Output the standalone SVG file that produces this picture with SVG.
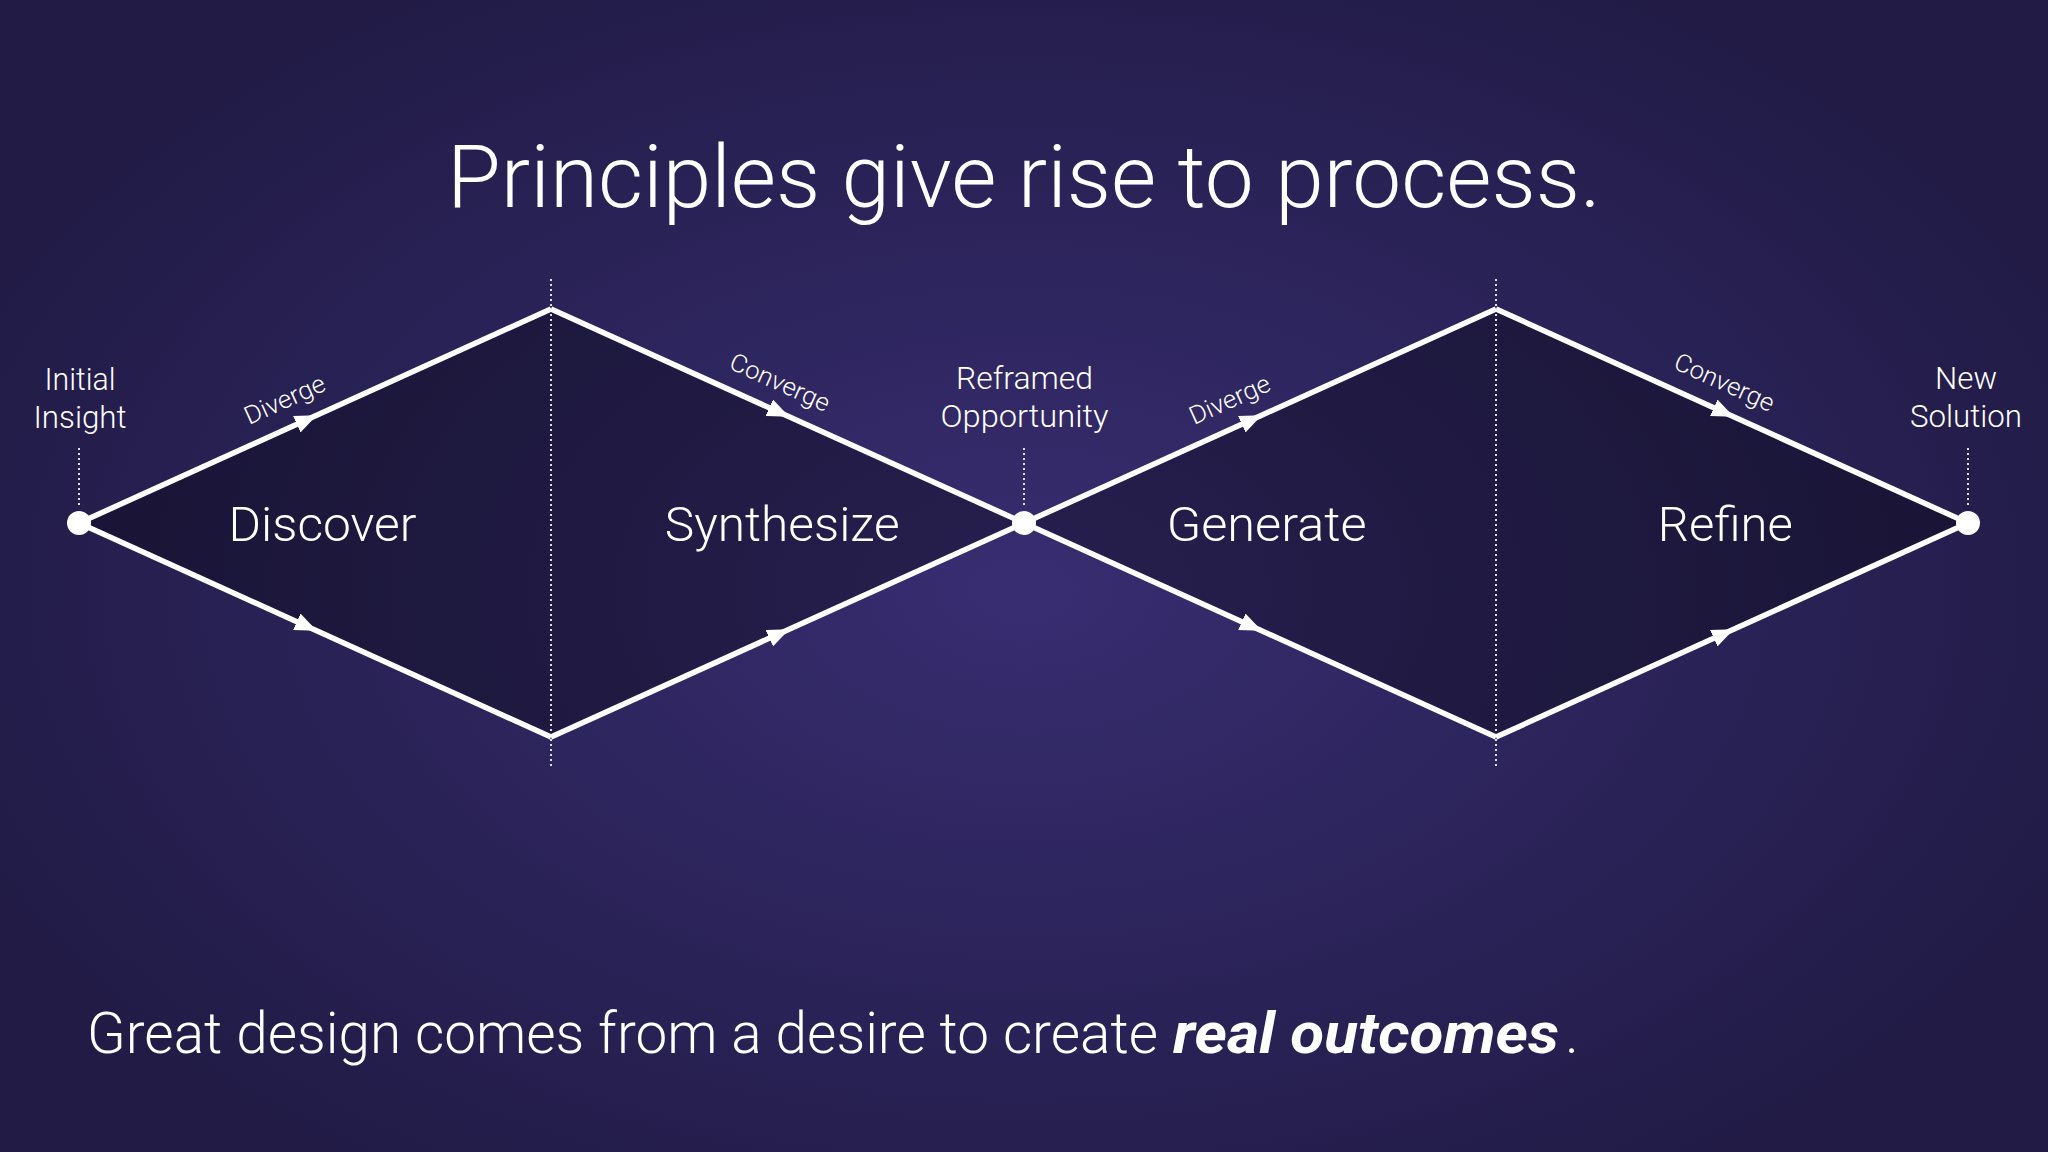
<svg xmlns="http://www.w3.org/2000/svg" width="2048" height="1152" viewBox="0 0 2048 1152">
  <defs>
    <radialGradient id="bg" gradientUnits="userSpaceOnUse" cx="1024" cy="590" r="1150" gradientTransform="translate(1024 590) scale(1 0.62) translate(-1024 -590)">
      <stop offset="0" stop-color="#382d71"/>
      <stop offset="0.45" stop-color="#2d255d"/>
      <stop offset="1" stop-color="#211b46"/>
    </radialGradient>
    <marker id="arr" viewBox="0 0 22 18" refX="20" refY="9" markerWidth="22" markerHeight="18" markerUnits="userSpaceOnUse" orient="auto">
      <path d="M0 0 L22 9 L0 18 Z" fill="#ffffff"/>
    </marker>
    <style>
      .t { font-family: Roboto, "Liberation Sans", sans-serif; font-weight: 300; fill: #ffffff; }
      .title { font-size: 88px; }
      .stage { font-size: 49px; text-anchor: middle; }
      .lbl { font-size: 32px; text-anchor: middle; }
      .dir { font-size: 25px; text-anchor: middle; }
      .foot { font-size: 58px; }
      .bi { font-weight: 700; font-style: italic; }
      .edge { fill: none; stroke: #ffffff; stroke-width: 5.5; stroke-linejoin: miter; marker-mid: url(#arr); }
      .dot { stroke: #ffffff; stroke-opacity: 0.85; stroke-width: 2; stroke-dasharray: 2 3; fill: none; }
      .shade { fill: #000000; fill-opacity: 0.3; }
      .node { fill: #ffffff; }
    </style>
  </defs>

  <rect x="0" y="0" width="2048" height="1152" fill="url(#bg)"/>

  <text class="t title" x="447" y="207" textLength="1154" lengthAdjust="spacingAndGlyphs">Principles give rise to process.</text>

  <g id="diamond-1">
    <polygon class="shade" points="79,523 551,309 1024,523 551,737"/>
  </g>
  <g id="diamond-2">
    <polygon class="shade" points="1024,523 1496,309 1968,523 1496,737"/>
  </g>

  <g id="dividers">
    <line class="dot" x1="551" y1="279" x2="551" y2="767"/>
    <line class="dot" x1="1496" y1="279" x2="1496" y2="767"/>
    <line class="dot" x1="79" y1="448" x2="79" y2="508"/>
    <line class="dot" x1="1024" y1="448" x2="1024" y2="508"/>
    <line class="dot" x1="1968" y1="448" x2="1968" y2="508"/>
  </g>

  <g id="connectors">
    <path class="edge" d="M79 523 L315 416 L551 309"/>
    <path class="edge" d="M551 309 L787.5 416 L1024 523"/>
    <path class="edge" d="M79 523 L315 630 L551 737"/>
    <path class="edge" d="M551 737 L787.5 630 L1024 523"/>
    <path class="edge" d="M1024 523 L1260 416 L1496 309"/>
    <path class="edge" d="M1496 309 L1732 416 L1968 523"/>
    <path class="edge" d="M1024 523 L1260 630 L1496 737"/>
    <path class="edge" d="M1496 737 L1732 630 L1968 523"/>
    <text class="t dir" transform="translate(296.1 424.6) rotate(-24.4)" y="-19" textLength="86" lengthAdjust="spacingAndGlyphs">Diverge</text>
    <text class="t dir" transform="translate(768.6 407.4) rotate(24.4)" y="-19" textLength="107" lengthAdjust="spacingAndGlyphs">Converge</text>
    <text class="t dir" transform="translate(1241.1 424.6) rotate(-24.4)" y="-19" textLength="86" lengthAdjust="spacingAndGlyphs">Diverge</text>
    <text class="t dir" transform="translate(1713.1 407.4) rotate(24.4)" y="-19" textLength="107" lengthAdjust="spacingAndGlyphs">Converge</text>
  </g>

  <g id="node-initial-insight">
    <circle class="node" cx="79" cy="523" r="12"/>
    <text class="t lbl" x="80" y="390" textLength="71" lengthAdjust="spacingAndGlyphs">Initial</text>
    <text class="t lbl" x="80" y="428" textLength="93" lengthAdjust="spacingAndGlyphs">Insight</text>
  </g>
  <g id="node-reframed-opportunity">
    <circle class="node" cx="1024" cy="523" r="12"/>
    <text class="t lbl" x="1024.5" y="389" textLength="137" lengthAdjust="spacingAndGlyphs">Reframed</text>
    <text class="t lbl" x="1024.5" y="427" textLength="168" lengthAdjust="spacingAndGlyphs">Opportunity</text>
  </g>
  <g id="node-new-solution">
    <circle class="node" cx="1968" cy="523" r="12"/>
    <text class="t lbl" x="1966" y="389" textLength="62" lengthAdjust="spacingAndGlyphs">New</text>
    <text class="t lbl" x="1966" y="427" textLength="112" lengthAdjust="spacingAndGlyphs">Solution</text>
  </g>

  <g id="stage-discover">
    <text class="t stage" x="322.5" y="541" textLength="188" lengthAdjust="spacingAndGlyphs">Discover</text>
  </g>
  <g id="stage-synthesize">
    <text class="t stage" x="782.3" y="541" textLength="235" lengthAdjust="spacingAndGlyphs">Synthesize</text>
  </g>
  <g id="stage-generate">
    <text class="t stage" x="1266.7" y="541" textLength="200" lengthAdjust="spacingAndGlyphs">Generate</text>
  </g>
  <g id="stage-refine">
    <text class="t stage" x="1725.3" y="541" textLength="135" lengthAdjust="spacingAndGlyphs">Refine</text>
  </g>

  <text class="t foot" y="1053"><tspan x="87" textLength="1071" lengthAdjust="spacingAndGlyphs">Great design comes from a desire to create</tspan> <tspan class="bi" x="1173" textLength="386" lengthAdjust="spacingAndGlyphs">real outcomes</tspan><tspan x="1565">.</tspan></text>
</svg>
